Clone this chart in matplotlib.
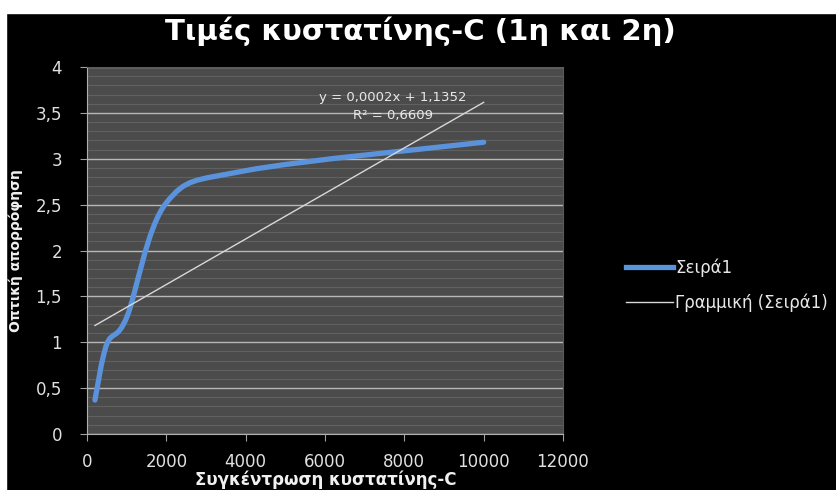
import numpy as np
import matplotlib.pyplot as plt
from matplotlib.patches import Rectangle, PathPatch
from matplotlib.path import Path
from matplotlib.lines import Line2D
from matplotlib.ticker import MultipleLocator, FuncFormatter

# δεδομένα (εκτίμηση από την εικόνα)
conc = [200, 500, 1000, 2000, 4000, 10000]
absorb = [0.37, 0.98, 1.27, 2.52, 2.87, 3.18]

title = 'Τιμές κυστατίνης-C (1η και 2η)'
xlabel = 'Συγκέντρωση κυστατίνης-C'
ylabel = 'Οπτική απορρόφηση'
series_label = 'Σειρά1'
trend_label = 'Γραμμική (Σειρά1)'
eq_text = 'y = 0,0002x + 1,1352\nR² = 0,6609'

plt.rcParams['font.family'] = ['DejaVu Sans']

fig = plt.figure(figsize=(8.36, 4.9), dpi=100, facecolor='black')
fig.patches.append(Rectangle((0, 1 - 13 / 490), 1, 13 / 490, transform=fig.transFigure,
                             color='white', zorder=-1))
fig.patches.append(Rectangle((0, 0), 6 / 836, 1, transform=fig.transFigure,
                             color='white', zorder=-1))

ax = fig.add_axes([87 / 836, 1 - 434 / 490, 476 / 836, 367 / 490])
ax.set_facecolor('#4b4b4b')
ax.set_xlim(0, 12000)
ax.set_ylim(0, 4)

x = np.array(conc, dtype=float)
y = np.array(absorb, dtype=float)

# εξομαλυσμένη γραμμή τύπου Excel (Bezier, Catmull-Rom) σε συντεταγμένες οθόνης
P = ax.transData.transform(np.column_stack([x, y]))
Pe = np.vstack([P[0], P, P[-1]])
verts = [P[0]]
codes = [Path.MOVETO]
for i in range(len(P) - 1):
    c1 = Pe[i + 1] + (Pe[i + 2] - Pe[i]) / 6
    c2 = Pe[i + 2] - (Pe[i + 3] - Pe[i + 1]) / 6
    verts += [c1, c2, Pe[i + 2]]
    codes += [Path.CURVE4] * 3
verts = ax.transData.inverted().transform(np.array(verts))
curve = PathPatch(Path(verts, codes), fill=False, edgecolor='#5a93dc', lw=3.8,
                  capstyle='round', joinstyle='round', transform=ax.transData, zorder=3)
ax.add_patch(curve)

k, b = np.polyfit(x, y, 1)
xt = np.array([x.min(), x.max()])
ax.plot(xt, k * xt + b, color='#d8d8d8', lw=1.0, zorder=4)

ax.text(0.643, 0.893, eq_text, transform=ax.transAxes, ha='center', va='center',
        fontsize=9.5, color='#e8e8e8', linespacing=1.5)

ax.xaxis.set_major_locator(MultipleLocator(2000))
ax.yaxis.set_major_locator(MultipleLocator(0.5))
ax.yaxis.set_minor_locator(MultipleLocator(0.1))
ax.yaxis.set_major_formatter(FuncFormatter(lambda v, p: f'{v:g}'.replace('.', ',')))
ax.grid(axis='y', which='major', color='#b8b8b8', lw=1.0)
ax.grid(axis='y', which='minor', color='#606060', lw=0.8)
ax.set_axisbelow(True)
ax.tick_params(which='major', colors='#a0a0a0', labelcolor='#e0e0e0', labelsize=12,
               length=5, direction='out')
ax.tick_params(axis='y', pad=13)
ax.tick_params(axis='x', pad=9)
ax.tick_params(which='minor', length=0)
for s in ['left', 'bottom']:
    ax.spines[s].set_color('#b0b0b0')
for s in ['top', 'right']:
    ax.spines[s].set_color('#5a5a5a')

fig.text(420 / 836, 1 - 31 / 490, title, ha='center', va='center', fontsize=21,
         fontweight='bold', color='white')
fig.text(16 / 836, 1 - 251 / 490, ylabel, ha='center', va='center', rotation=90,
         fontsize=10, fontweight='bold', color='#f0f0f0')
fig.text(326 / 836, 1 - 489 / 490, xlabel, ha='center', va='bottom', fontsize=12,
         fontweight='bold', color='#f0f0f0')

handles = [Line2D([], [], color='#5a93dc', lw=3.8),
           Line2D([], [], color='#d8d8d8', lw=1.0)]
fig.legend(handles, [series_label, trend_label], loc='center left',
           bbox_to_anchor=(611 / 836, 1 - 285 / 490), frameon=False,
           fontsize=12, labelcolor='#e8e8e8', handlelength=2.8, handletextpad=0.15,
           labelspacing=1.0)

fig.savefig('out.png', dpi=100, facecolor='black')
